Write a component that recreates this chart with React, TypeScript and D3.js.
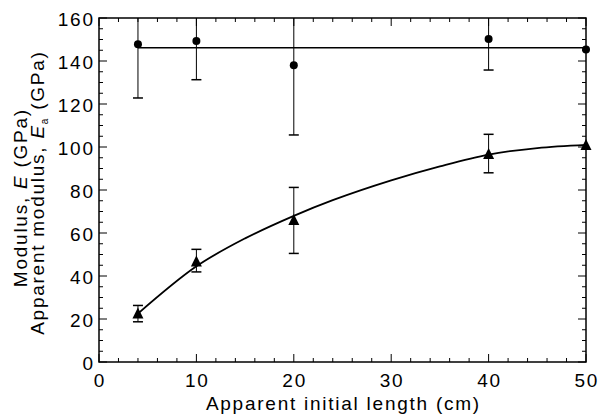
import React from "react";
import * as d3 from "d3";

const lengths = [4, 10, 20, 40, 50];
const modulusE = [147.8, 149.3, 138.0, 150.2, 145.4];
const modulusErr = [25.0, 18.0, 32.4, 14.4, 0];
const apparentEa = [22.6, 46.7, 66.0, 96.7, 100.9];
const apparentErrHi = [26.3, 52.4, 81.2, 105.9, 0];
const apparentErrLo = [18.7, 41.9, 50.5, 88.0, 0];
const meanLine = { x: [4, 50], y: 146.2 };
const fitX = [4, 10, 15, 20, 24, 30, 35, 40, 45, 50];
const fitY = [22.5, 44.5, 57.5, 68, 75.3, 84.5, 91, 96.5, 99.5, 101];
const xTicks = [0, 10, 20, 30, 40, 50];
const yTicks = [0, 20, 40, 60, 80, 100, 120, 140, 160];

const W = 598, H = 417;
const L = 99, R = 586, T = 18, B = 362;
const FONT = "Liberation Sans, Arial, sans-serif";
const FS = 19;
const LS = 1.75;

export default function App() {
  const x = d3.scaleLinear().domain([0, 50]).range([L, R]);
  const y = d3.scaleLinear().domain([0, 160]).range([B, T]);
  const xMinor = d3.range(0, 50.01, 2);
  const yMinor = d3.range(0, 160.01, 5);
  const fit = d3.line<number>().x((d, i) => x(fitX[i])).y((d) => y(d)).curve(d3.curveCatmullRom)(fitY) || "";
  const clip = (v: number) => Math.max(T, Math.min(B, y(v)));
  const tri = (cx: number, cy: number) => {
    const s = 5.5;
    return `M${cx},${cy - s - 0.5}L${cx + s},${cy + s - 0.5}L${cx - s},${cy + s - 0.5}Z`;
  };
  const txt = { fontFamily: FONT, fontSize: FS, letterSpacing: LS, fill: "#000" } as any;
  return (
    <svg width={W} height={H} style={{ display: "block", position: "absolute", left: 0, top: 0 }}>
      <rect x={0} y={0} width={W} height={H} fill="#fff" />
      {xMinor.map((v) => {
        const major = v % 10 === 0;
        const len = major ? 8 : 4;
        return (
          <g key={"xt" + v} stroke="#000" strokeWidth={1}>
            <line x1={x(v)} x2={x(v)} y1={B} y2={B - len} />
            <line x1={x(v)} x2={x(v)} y1={T} y2={T + len} />
          </g>
        );
      })}
      {yMinor.map((v) => {
        const major = v % 20 === 0;
        const len = major ? 8 : 4;
        return (
          <g key={"yt" + v} stroke="#000" strokeWidth={1}>
            <line x1={L} x2={L + len} y1={y(v)} y2={y(v)} />
            <line x1={R} x2={R - len} y1={y(v)} y2={y(v)} />
          </g>
        );
      })}
      <rect x={L} y={T} width={R - L} height={B - T} fill="none" stroke="#000" strokeWidth={1.5} />
      {xTicks.map((v) => (
        <text key={"xl" + v} x={x(v) + LS / 2} y={387} textAnchor="middle" {...txt}>{v}</text>
      ))}
      {yTicks.map((v) => (
        <text key={"yl" + v} x={93 + LS} y={y(v) + 8.3} textAnchor="end" {...txt}>{v}</text>
      ))}
      <text x={(L + R) / 2 + LS / 2} y={410} textAnchor="middle" {...txt}>Apparent initial length (cm)</text>
      <g transform={`translate(27,198.5) rotate(-90)`}>
        <text x={LS / 2} y={0} textAnchor="middle" {...txt}>
          Modulus, <tspan fontStyle="italic">E</tspan> (GPa)
        </text>
      </g>
      <g transform={`translate(43.5,193.5) rotate(-90)`}>
        <text x={LS / 2} y={0} textAnchor="middle" {...txt}>
          Apparent modulus, <tspan fontStyle="italic">E</tspan><tspan fontSize={10} dy={4}>a</tspan><tspan dy={-4}> (GPa)</tspan>
        </text>
      </g>
      <line x1={x(meanLine.x[0])} x2={x(meanLine.x[1])} y1={y(meanLine.y)} y2={y(meanLine.y)} stroke="#000" strokeWidth={1.5} />
      <path d={fit} fill="none" stroke="#000" strokeWidth={1.8} />
      {lengths.map((lx, i) => (
        modulusErr[i] > 0 ? (
          <g key={"me" + i} stroke="#000" strokeWidth={1}>
            <line x1={x(lx)} x2={x(lx)} y1={clip(modulusE[i] + modulusErr[i])} y2={clip(modulusE[i] - modulusErr[i])} />
            {modulusE[i] + modulusErr[i] <= 160 && (
              <line x1={x(lx) - 5} x2={x(lx) + 5} y1={y(modulusE[i] + modulusErr[i])} y2={y(modulusE[i] + modulusErr[i])} />
            )}
            <line x1={x(lx) - 5} x2={x(lx) + 5} y1={y(modulusE[i] - modulusErr[i])} y2={y(modulusE[i] - modulusErr[i])} strokeWidth={1.5} />
          </g>
        ) : null
      ))}
      {lengths.map((lx, i) => (
        apparentErrHi[i] > 0 ? (
          <g key={"ae" + i} stroke="#000" strokeWidth={1}>
            <line x1={x(lx)} x2={x(lx)} y1={y(apparentErrHi[i])} y2={y(apparentErrLo[i])} />
            <line x1={x(lx) - 5} x2={x(lx) + 5} y1={y(apparentErrHi[i])} y2={y(apparentErrHi[i])} strokeWidth={1.5} />
            <line x1={x(lx) - 5} x2={x(lx) + 5} y1={y(apparentErrLo[i])} y2={y(apparentErrLo[i])} strokeWidth={1.5} />
          </g>
        ) : null
      ))}
      {lengths.map((lx, i) => (
        <circle key={"c" + i} cx={x(lx)} cy={y(modulusE[i])} r={4} fill="#000" />
      ))}
      {lengths.map((lx, i) => (
        <path key={"t" + i} d={tri(x(lx), y(apparentEa[i]))} fill="#000" />
      ))}
    </svg>
  );
}
